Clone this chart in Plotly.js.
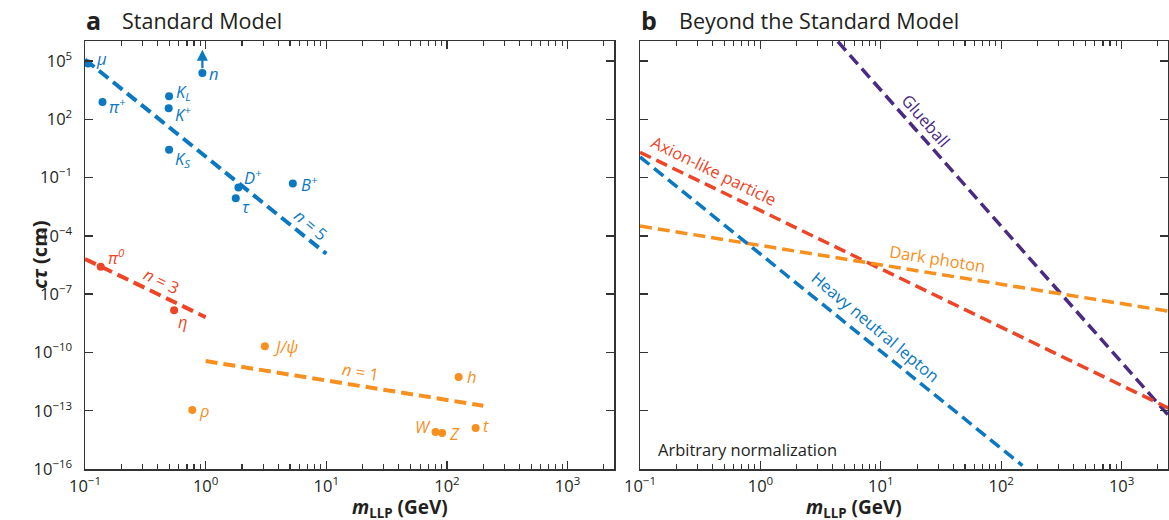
<!DOCTYPE html>
<html>
<head>
<meta charset="utf-8">
<script src="https://cdn.plot.ly/plotly-3.0.1.min.js"></script>
<style>html,body{margin:0;padding:0;background:#fff;}#chart{width:1169px;height:520px;}</style>
</head>
<body>
<div id="chart"></div>
<script>
// ---------- Panel a: Standard Model particles ----------
const blueNames  = ['μ', 'π+', 'KL', 'K+', 'KS', 'n', 'D+', 'τ', 'B+'];
const blueMass   = [0.106, 0.1396, 0.4976, 0.4937, 0.4976, 0.9396, 1.8696, 1.777, 5.279];
const blueCtau   = [7.5e4, 780, 1534, 371, 2.68, 2.4e4, 0.0312, 0.0087, 0.0491];

const redNames   = ['π0', 'η'];
const redMass    = [0.135, 0.548];
const redCtau    = [2.55e-6, 1.5e-8];

const orangeNames = ['J/ψ', 'ρ', 'h', 'W', 'Z', 't'];
const orangeMass  = [3.097, 0.775, 125, 80.4, 91.2, 173];
const orangeCtau  = [2.1e-10, 1.1e-13, 5.5e-12, 8.0e-15, 7.2e-15, 1.3e-14];

// scaling lines  cτ ∝ m^-n
const n5Mass = [0.1, 10];   const n5Ctau = [1.2e5, 1.2e-5];
const n3Mass = [0.1, 1];    const n3Ctau = [6.5e-6, 6.5e-9];
const n1Mass = [1, 200];    const n1Ctau = [3.6e-11, 1.8e-13];

// ---------- Panel b: Beyond the Standard Model ----------
const glueMass = [4.4, 2500];  const glueCtau = [1.0e6, 5.0e-14];
const alpMass  = [0.1, 2500];  const alpCtau  = [2.0, 1.28e-13];
const dpMass   = [0.1, 2500];  const dpCtau   = [3.2e-4, 1.3e-8];
const hnlMass  = [0.1, 150];   const hnlCtau  = [1.15, 1.5e-16];

// tick labels
const xTickVals = [0.1, 1, 10, 100, 1000];
const xTickText = ['10<sup>−1</sup>', '10<sup>0</sup>', '10<sup>1</sup>', '10<sup>2</sup>', '10<sup>3</sup>'];
const yTickVals = [1e5, 1e2, 1e-1, 1e-4, 1e-7, 1e-10, 1e-13, 1e-16];
const yTickText = ['10<sup>5</sup>', '10<sup>2</sup>', '10<sup>−1</sup>', '10<sup>−4</sup>', '10<sup>−7</sup>', '10<sup>−10</sup>', '10<sup>−13</sup>', '10<sup>−16</sup>'];

const BLUE = '#0b78c1', ORANGE = '#f7901e', RED = '#ee4527', PURPLE = '#4a2a82', INK = '#231f20';
const FONT = 'Open Sans, Noto Sans, sans-serif';
const LBL = 16.5;

const minorVals = [];
[0.1, 1, 10, 100, 1000].forEach(d => { for (let k = 2; k <= 9; k++) minorVals.push(d * k); });

function dashLine(x, y, color, w, xa, ya) {
  return {x: x, y: y, xaxis: xa, yaxis: ya, mode: 'lines', type: 'scatter', hoverinfo: 'skip',
          line: {color: color, width: w, dash: '12px,6px'}, showlegend: false};
}
function dots(x, y, color) {
  return {x: x, y: y, xaxis: 'x', yaxis: 'y', mode: 'markers', type: 'scatter',
          marker: {color: color, size: 8}, showlegend: false};
}

const data = [
  dashLine(n5Mass, n5Ctau, BLUE, 4, 'x', 'y'),
  dashLine(n3Mass, n3Ctau, RED, 4, 'x', 'y'),
  dashLine(n1Mass, n1Ctau, ORANGE, 4, 'x', 'y'),
  dots(blueMass, blueCtau, BLUE),
  dots(redMass, redCtau, RED),
  dots(orangeMass, orangeCtau, ORANGE),
  dashLine(glueMass, glueCtau, PURPLE, 3.5, 'x2', 'y2'),
  dashLine(alpMass, alpCtau, RED, 3.5, 'x2', 'y2'),
  dashLine(dpMass, dpCtau, ORANGE, 3.5, 'x2', 'y2'),
  dashLine(hnlMass, hnlCtau, BLUE, 3.5, 'x2', 'y2'),
];

// particle label text + offsets (pixels)
const labelText = {
  'μ': 'μ', 'π+': 'π<sup>+</sup>', 'KL': 'K<sub>L</sub>', 'K+': 'K<sup>+</sup>', 'KS': 'K<sub>S</sub>',
  'n': 'n', 'D+': 'D<sup>+</sup>', 'τ': 'τ', 'B+': 'B<sup>+</sup>', 'π0': 'π<sup>0</sup>', 'η': 'η',
  'J/ψ': 'J/ψ', 'ρ': 'ρ', 'h': 'h', 'W': 'W', 'Z': 'Z', 't': 't'
};
const labelOff = {
  'μ': [6, 5, 'left'], 'π+': [5, -4, 'left'], 'KL': [5, 4, 'left'], 'K+': [4, -6, 'left'], 'KS': [4, -9, 'left'],
  'n': [5, 0, 'left'], 'D+': [4, 10, 'left'], 'τ': [4, -8, 'left'], 'B+': [6, 0, 'left'],
  'π0': [5, 10, 'left'], 'η': [2, -11, 'left'], 'J/ψ': [6, 0, 'left'], 'ρ': [5, -1, 'left'],
  'h': [6, 0, 'left'], 'W': [-3, 6, 'right'], 'Z': [5, -1, 'left'], 't': [5, 2, 'left']
};

const annotations = [];
function addLabels(names, xs, ys, color) {
  names.forEach((nm, i) => {
    const o = labelOff[nm];
    annotations.push({xref: 'x', yref: 'y', x: Math.log10(xs[i]), y: Math.log10(ys[i]),
      text: '<i>' + labelText[nm] + '</i>', showarrow: false, xanchor: o[2], yanchor: 'middle',
      xshift: o[0], yshift: o[1], font: {family: FONT, size: LBL, color: color}});
  });
}
addLabels(blueNames, blueMass, blueCtau, BLUE);
addLabels(redNames, redMass, redCtau, RED);
addLabels(orangeNames, orangeMass, orangeCtau, ORANGE);

// neutron arrow (off-scale lifetime)
const nIdx = blueNames.indexOf('n');
annotations.push({xref: 'x', yref: 'y', x: Math.log10(blueMass[nIdx]), y: Math.log10(blueCtau[nIdx]) + 1.2,
  ax: 0, ay: 20, showarrow: true, arrowhead: 2, arrowsize: 1, arrowwidth: 2.2, arrowcolor: BLUE, text: ''});

function lineLabel(xa, ya, x, y, text, color, angle) {
  annotations.push({xref: xa, yref: ya, x: x, y: y, text: text, showarrow: false, textangle: angle,
    font: {family: FONT, size: LBL, color: color}});
}
lineLabel('x', 'y', 0.874, -3.39, '<i>n</i> = 5', BLUE, 40);
lineLabel('x', 'y', -0.37, -6.32, '<i>n</i> = 3', RED, 26);
lineLabel('x', 'y', 1.28, -11.0, '<i>n</i> = 1', ORANGE, 9);
lineLabel('x2', 'y2', 1.377, 1.96, 'Glueball', PURPLE, 49);
lineLabel('x2', 'y2', -0.385, -0.61, 'Axion-like particle', RED, 26);
lineLabel('x2', 'y2', 1.469, -5.19, 'Dark photon', ORANGE, 9);
lineLabel('x2', 'y2', 0.953, -8.69, 'Heavy neutral lepton', BLUE, 40);

annotations.push({xref: 'x2', yref: 'y2', x: -0.865, y: -15.02, xanchor: 'left', text: 'Arbitrary normalization',
  showarrow: false, font: {family: FONT, size: 16.5, color: INK}});

// panel titles
annotations.push({xref: 'paper', yref: 'paper', x: -0.001, y: 1.049, xanchor: 'left', yanchor: 'middle',
  text: '<b>a</b>', showarrow: false, font: {family: FONT, size: 25, color: INK}});
annotations.push({xref: 'paper', yref: 'paper', x: 0.032, y: 1.049, xanchor: 'left', yanchor: 'middle',
  text: 'Standard Model', showarrow: false, font: {family: FONT, size: 21.5, color: INK}});
annotations.push({xref: 'paper', yref: 'paper', x: 0.512, y: 1.049, xanchor: 'left', yanchor: 'middle',
  text: '<b>b</b>', showarrow: false, font: {family: FONT, size: 25, color: INK}});
annotations.push({xref: 'paper', yref: 'paper', x: 0.547, y: 1.049, xanchor: 'left', yanchor: 'middle',
  text: 'Beyond the Standard Model', showarrow: false, font: {family: FONT, size: 21.5, color: INK}});

// axis titles
annotations.push({xref: 'paper', yref: 'paper', x: -0.057, y: 0.5, textangle: -90, showarrow: false,
  text: '<b><i>cτ</i> (cm)</b>', font: {family: FONT, size: 20, color: INK}});
annotations.push({xref: 'paper', yref: 'paper', x: 0.2443, y: -0.128, yanchor: 'bottom', showarrow: false,
  text: '<b><i>m</i><sub>LLP</sub> (GeV)</b>', font: {family: FONT, size: 19, color: INK}});
annotations.push({xref: 'paper', yref: 'paper', x: 0.7566, y: -0.128, yanchor: 'bottom', showarrow: false,
  text: '<b><i>m</i><sub>LLP</sub> (GeV)</b>', font: {family: FONT, size: 19, color: INK}});

function xAxis(domain, anchor) {
  return {type: 'log', range: [-1, 3.385], domain: domain, anchor: anchor,
    tickvals: xTickVals, ticktext: xTickText, ticks: 'inside', ticklen: 8, tickwidth: 1.3, tickcolor: '#333',
    showline: true, linecolor: '#333', linewidth: 1.5, mirror: 'allticks', showgrid: false, zeroline: false,
    tickfont: {family: FONT, size: 16.5, color: INK}, ticklabelstandoff: 2,
    minor: {tickvals: minorVals, ticks: 'inside', ticklen: 5, tickwidth: 1.1, tickcolor: '#333', showgrid: false}};
}

const layout = {
  width: 1169, height: 520,
  margin: {l: 85, r: 1, t: 41, b: 51},
  paper_bgcolor: '#fff', plot_bgcolor: '#fff',
  showlegend: false,
  xaxis: xAxis([0, 0.4885], 'y'),
  xaxis2: xAxis([0.5125, 1], 'y2'),
  yaxis: {type: 'log', range: [-16, 6.03], domain: [0, 1], anchor: 'x',
    tickvals: yTickVals, ticktext: yTickText, ticks: 'inside', ticklen: 8, tickwidth: 1.3, tickcolor: '#333',
    showline: true, linecolor: '#333', linewidth: 1.5, mirror: 'allticks', showgrid: false, zeroline: false,
    tickfont: {family: FONT, size: 16.5, color: INK}, ticklabelstandoff: 8},
  yaxis2: {type: 'log', range: [-16, 6.03], domain: [0, 1], anchor: 'x2', matches: 'y',
    tickvals: yTickVals, showticklabels: false, ticks: 'inside', ticklen: 8, tickwidth: 1.3, tickcolor: '#333',
    showline: true, linecolor: '#333', linewidth: 1.5, mirror: 'allticks', showgrid: false, zeroline: false},
  annotations: annotations
};

Plotly.newPlot('chart', data, layout, {displayModeBar: false, staticPlot: true});
</script>
</body>
</html>
